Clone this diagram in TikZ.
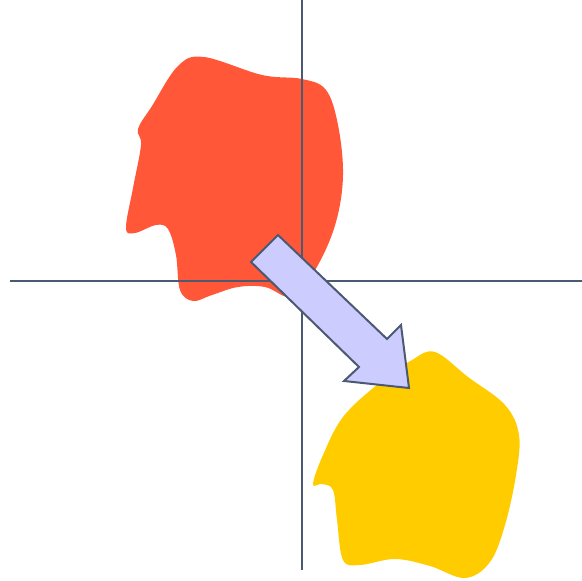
\documentclass[tikz,border=0pt]{standalone}
\usepackage{tikz}
\usetikzlibrary{calc}
\definecolor{Slate}{HTML}{4B5A72}
\definecolor{Tomato}{HTML}{FF5738}
\definecolor{Gold}{HTML}{FFCC00}
\definecolor{Lilac}{HTML}{CCCCFF}
\tikzset{
 axis/.style={draw=Slate,line width=1pt},
 blob/.style={draw=none,smooth cycle,tension=0.6},
 pointer/.style={draw=Slate,fill=Lilac,line width=1pt,line join=miter}
}
\begin{document}
\begin{tikzpicture}[x=0.5pt,y=-0.5pt]
\useasboundingbox (0,0) rectangle (582,581);
% red shape, upper left
\fill[Tomato] plot[blob] coordinates {(204,57) (262,75) (302,79) (326,90) (338,125) (343,175) (336,222) (318,265) (294,297) (265,287) (238,287) (212,295) (193,301) (180,290) (176,255) (168,229) (156,225) (135,233) (126,228) (133,188) (141,145) (138,129) (152,106) (178,66)};
% yellow shape, lower right
\fill[Gold] plot[blob] coordinates {(435,352) (468,377) (505,405) (519,435) (516,475) (505,525) (490,562) (465,578) (430,566) (395,559) (360,565) (343,560) (337,520) (333,490) (322,484) (313,484) (323,455) (343,417) (378,384) (412,360)};
% axes
\coordinate (xl) at (10,281.5);
\coordinate (xr) at (582,281.5);
\coordinate (yt) at (301.5,0);
\coordinate (yb) at (301.5,570);
\draw[axis] (xl)--(xr);
\draw[axis] (yt)--(yb);
% arrow
\coordinate (t1) at (278,235);
\coordinate (s1) at (387,339);
\coordinate (b1) at (401,325);
\coordinate (tip) at (409,388);
\coordinate (b2) at (344,381);
\coordinate (s2) at (359,367);
\coordinate (t2) at (251,262);
\draw[pointer] (t1)--(s1)--(b1)--(tip)--(b2)--(s2)--(t2)--cycle;
\end{tikzpicture}
\end{document}
